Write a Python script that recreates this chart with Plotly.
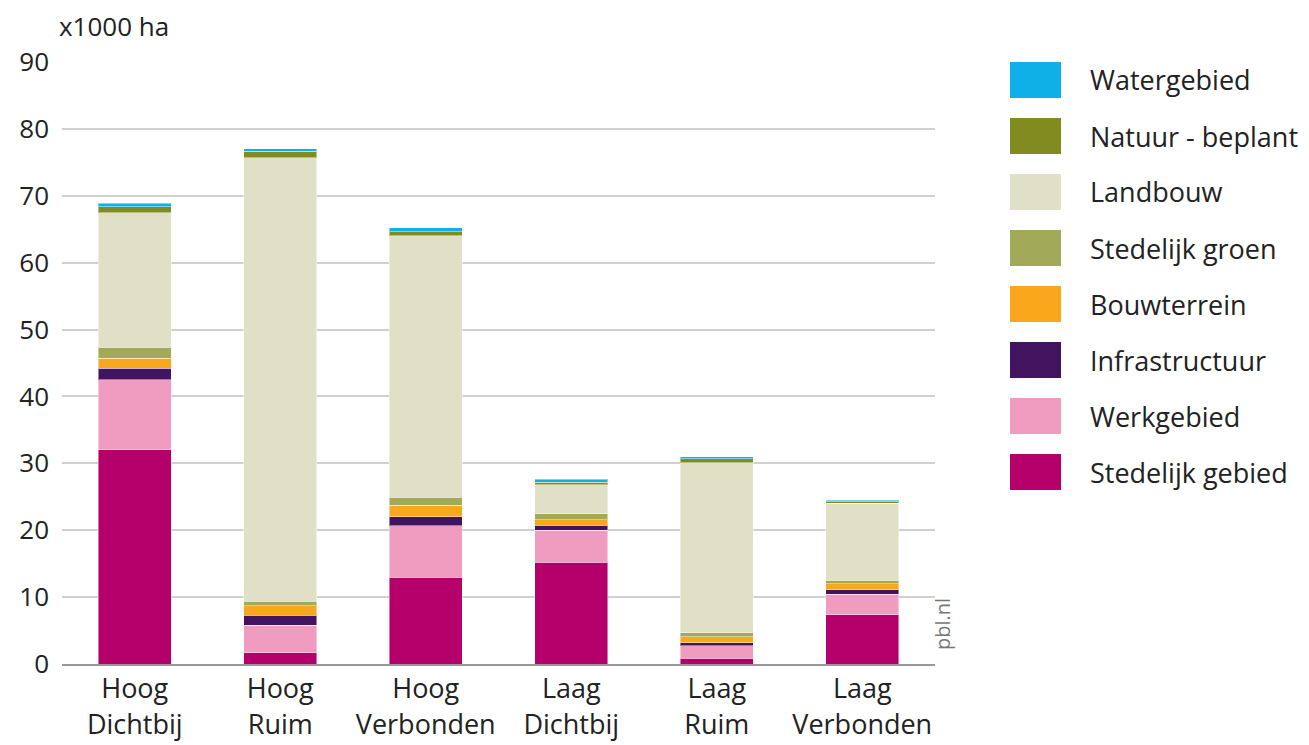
import plotly.graph_objects as go

categories = ["Hoog<br>Dichtbij", "Hoog<br>Ruim", "Hoog<br>Verbonden",
              "Laag<br>Dichtbij", "Laag<br>Ruim", "Laag<br>Verbonden"]

stedelijk_gebied = [32.0, 1.7, 13.0, 15.2, 0.85, 7.4]
werkgebied = [10.5, 4.1, 7.7, 4.8, 1.9, 3.0]
infrastructuur = [1.7, 1.5, 1.3, 0.75, 0.45, 0.7]
bouwterrein = [1.5, 1.4, 1.7, 0.85, 0.9, 0.9]
stedelijk_groen = [1.65, 0.7, 1.25, 0.9, 0.6, 0.5]
landbouw = [20.1, 66.3, 39.1, 4.3, 25.4, 11.5]
natuur_beplant = [0.9, 0.95, 0.55, 0.4, 0.55, 0.25]
watergebied = [0.5, 0.4, 0.6, 0.4, 0.35, 0.25]

series = [
    ("Stedelijk gebied", stedelijk_gebied, "#b5006b"),
    ("Werkgebied", werkgebied, "#f09cc0"),
    ("Infrastructuur", infrastructuur, "#42145f"),
    ("Bouwterrein", bouwterrein, "#f9a81e"),
    ("Stedelijk groen", stedelijk_groen, "#a2aa5a"),
    ("Landbouw", landbouw, "#dfe0c5"),
    ("Natuur - beplant", natuur_beplant, "#818b1f"),
    ("Watergebied", watergebied, "#0fb0e8"),
]

FONT = "Open Sans"
OFF = 8  # page body margin
W, H = 1309 - OFF, 745 - OFF
L, R, T, B = 62 - OFF, 374, 62 - OFF, 81
pw, ph = W - L - R, H - T - B


def px(x):
    return (x - OFF - L) / pw


def py(y):
    return (H - B - (y - OFF)) / ph


fig = go.Figure()
for name, vals, col in series:
    fig.add_trace(go.Bar(
        x=categories, y=vals, name=name, showlegend=False,
        marker=dict(color=col, line=dict(color="rgba(255,255,255,0.45)", width=1)),
    ))

# custom legend (top item = Watergebied)
for i, (name, vals, col) in enumerate(reversed(series)):
    cy = 80 + i * 56
    fig.add_shape(type="rect", xref="paper", yref="paper",
                  x0=px(1010), x1=px(1061), y0=py(cy + 18), y1=py(cy - 18),
                  fillcolor=col, line=dict(width=0))
    fig.add_annotation(xref="paper", yref="paper", x=px(1088), y=py(cy),
                       text=name, showarrow=False, xanchor="left", yanchor="middle",
                       font=dict(family=FONT, size=27, color="#222"))

fig.add_annotation(xref="paper", yref="paper", x=px(57), y=py(26),
                   text="x1000 ha", showarrow=False, xanchor="left", yanchor="middle",
                   font=dict(family=FONT, size=26, color="#222"))
fig.add_annotation(xref="paper", yref="paper", x=px(942), y=py(624),
                   text="pbl.nl", showarrow=False, textangle=-90,
                   xanchor="center", yanchor="middle",
                   font=dict(family=FONT, size=20, color="#777"))

fig.update_layout(
    barmode="stack", bargap=0.5,
    width=W, height=H,
    margin=dict(l=L, r=R, t=T, b=B, autoexpand=False),
    plot_bgcolor="white", paper_bgcolor="white",
    font=dict(family=FONT, size=24, color="#222"),
    xaxis=dict(showgrid=False, showline=True, linecolor="#999", linewidth=2,
               ticks="", tickfont=dict(size=27), automargin=False),
    yaxis=dict(range=[0, 90], tickvals=list(range(0, 91, 10)), showgrid=True,
               gridcolor="#d0d0d0", gridwidth=2, zeroline=False, ticks="",
               tickfont=dict(size=26), ticklabelstandoff=12, automargin=False),
)

fig.write_html("out.html")
